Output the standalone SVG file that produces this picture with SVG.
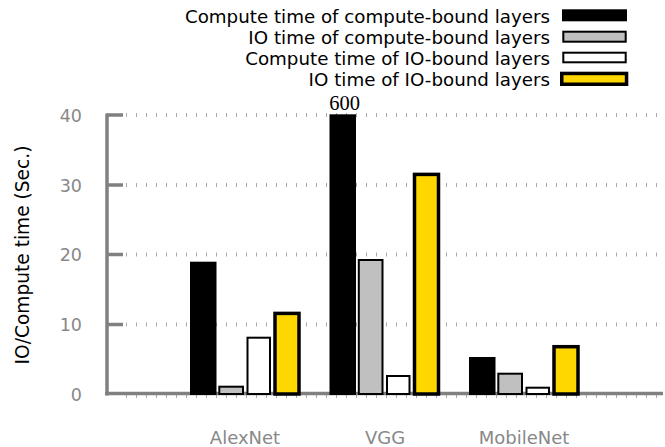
<svg xmlns="http://www.w3.org/2000/svg" width="665" height="447" viewBox="0 0 665 447">
<style>
text{font-family:"DejaVu Sans","Noto Sans",sans-serif;font-size:18px}
.tick{fill:#888;text-anchor:end;font-size:17.5px}
.cat{fill:#888;text-anchor:middle}
.leg{fill:#000;text-anchor:end;font-size:18.25px}
.grid{stroke:#aaa;stroke-width:4;stroke-dasharray:1 9;fill:none}
.axis{stroke:#808080;stroke-width:3.5;fill:none}
.k{fill:#000}
.g{fill:#c0c0c0;stroke:#000;stroke-width:2}
.w{fill:#fff;stroke:#000;stroke-width:2}
.y{fill:#ffd700;stroke:#000;stroke-width:3.5}
</style>
<rect width="665" height="447" fill="#fff"/>
<g id="grid">
<line class="grid" x1="126" y1="115" x2="662" y2="115"/>
<line class="grid" x1="126" y1="185" x2="662" y2="185"/>
<line class="grid" x1="126" y1="254.5" x2="662" y2="254.5"/>
<line class="grid" x1="126" y1="324.5" x2="662" y2="324.5"/>
<line class="grid" x1="126" y1="396" x2="662" y2="396"/>
</g>
<g id="axes">
<line class="axis" x1="107" y1="113.5" x2="107" y2="395.5"/>
<line class="axis" x1="105" y1="393.5" x2="663" y2="393.5"/>
<line class="axis" x1="107" y1="115" x2="123" y2="115"/>
<line class="axis" x1="107" y1="185" x2="123" y2="185"/>
<line class="axis" x1="107" y1="254.5" x2="123" y2="254.5"/>
<line class="axis" x1="107" y1="324.5" x2="123" y2="324.5"/>
<text class="tick" x="82" y="121.5">40</text>
<text class="tick" x="82" y="191.5">30</text>
<text class="tick" x="82" y="261">20</text>
<text class="tick" x="82" y="331">10</text>
<text class="tick" x="82" y="400.5">0</text>
<text x="0" y="0" transform="translate(29,255) rotate(-90)" text-anchor="middle" fill="#000" style="font-size:18.6px">IO/Compute time (Sec.)</text>
</g>
<g id="alexnet">
<rect class="k" x="190" y="261.7" width="26.5" height="133.3"/>
<rect class="g" x="219.3" y="386.7" width="23.7" height="7.3"/>
<rect class="w" x="247.5" y="337.7" width="22.5" height="56.3"/>
<rect class="y" x="275" y="313.4" width="24" height="80.6"/>
<text class="cat" x="245" y="444">AlexNet</text>
</g>
<g id="vgg">
<rect class="k" x="329.5" y="114.3" width="26.5" height="280.7"/>
<rect class="g" x="358.8" y="260" width="23.7" height="134"/>
<rect class="w" x="387" y="376" width="22.5" height="18"/>
<rect class="y" x="414.5" y="174.4" width="24" height="219.6"/>
<text class="cat" x="385" y="444">VGG</text>
<text x="344.5" y="110" text-anchor="middle" style="font-family:'Liberation Serif','Times New Roman',serif;font-size:20.5px">600</text>
</g>
<g id="mobilenet">
<rect class="k" x="469" y="357" width="26.5" height="38"/>
<rect class="g" x="498.3" y="373.7" width="23.7" height="20.3"/>
<rect class="w" x="526.5" y="387.7" width="22.5" height="6.3"/>
<rect class="y" x="554" y="346.7" width="24" height="47.3"/>
<text class="cat" x="524" y="444">MobileNet</text>
</g>
<g id="legend">
<text class="leg" x="550" y="22.5">Compute time of compute-bound layers</text>
<rect class="k" x="562" y="9.3" width="65" height="12"/>
<text class="leg" x="550" y="43.5">IO time of compute-bound layers</text>
<rect class="g" x="563.3" y="31.7" width="62.4" height="10"/>
<text class="leg" x="550" y="64.5">Compute time of IO-bound layers</text>
<rect class="w" x="563.3" y="52.7" width="62.4" height="9.6"/>
<text class="leg" x="550" y="85.5">IO time of IO-bound layers</text>
<rect class="y" x="561.75" y="73.45" width="64.8" height="10.8"/>
</g>
</svg>
